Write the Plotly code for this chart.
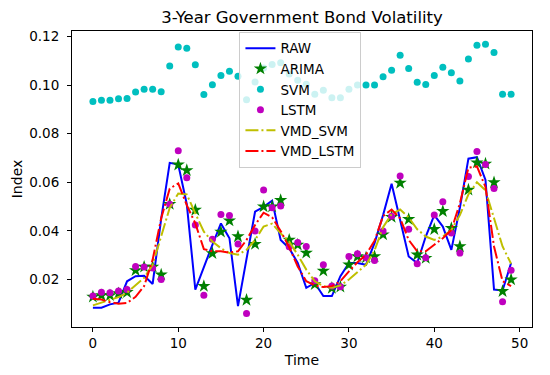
import plotly.graph_objects as go

time = list(range(50))

raw = [0.0084, 0.0084, 0.0098, 0.0105, 0.0193, 0.0214, 0.0216, 0.0182, 0.0450, 0.0680,
       0.0673, 0.0510, 0.0159, 0.0254, 0.0343, 0.0431, 0.0370, 0.0091, 0.0290, 0.0479,
       0.0499, 0.0524, 0.0363, 0.0329, 0.0268, 0.0166, 0.0186, 0.0132, 0.0132, 0.0214,
       0.0268, 0.0268, 0.0261, 0.0350, 0.0465, 0.0594, 0.0445, 0.0295, 0.0268, 0.0377,
       0.0465, 0.0418, 0.0322, 0.0495, 0.0697, 0.0703, 0.0610, 0.0159, 0.0155, 0.0268]

arima = [0.0129, 0.0135, 0.0135, 0.0143, 0.0148, 0.0238, 0.0252, 0.0252, 0.0220, 0.0510,
         0.0672, 0.0649, 0.0486, 0.0173, 0.0308, 0.0396, 0.0442, 0.0377, 0.0116, 0.0346,
         0.0500, 0.0500, 0.0526, 0.0363, 0.0343, 0.0310, 0.0180, 0.0236, 0.0165, 0.0170,
         0.0261, 0.0295, 0.0290, 0.0295, 0.0385, 0.0457, 0.0597, 0.0448, 0.0302, 0.0288,
         0.0407, 0.0481, 0.0411, 0.0336, 0.0569, 0.0681, 0.0676, 0.0599, 0.0152, 0.0200]

svm = [0.0932, 0.0937, 0.0937, 0.0943, 0.0944, 0.0971, 0.0982, 0.0982, 0.0972, 0.1078,
       0.1156, 0.1151, 0.1083, 0.0961, 0.1001, 0.1039, 0.1056, 0.1036, 0.0939, 0.1012,
       0.1070, 0.1084, 0.1091, 0.1045, 0.1020, 0.1003, 0.0962, 0.0978, 0.0948, 0.0948,
       0.0982, 0.1000, 0.1000, 0.1000, 0.1034, 0.1061, 0.1122, 0.1068, 0.1011, 0.1002,
       0.1039, 0.1073, 0.1050, 0.1016, 0.1107, 0.1163, 0.1168, 0.1134, 0.0962, 0.0962]

lstm = [0.0132, 0.0148, 0.0146, 0.0153, 0.0159, 0.0254, 0.0252, 0.0248, 0.0200, 0.0510,
        0.0730, 0.0619, 0.0424, 0.0136, 0.0366, 0.0468, 0.0463, 0.0346, 0.0060, 0.0400,
        0.0568, 0.0495, 0.0502, 0.0335, 0.0352, 0.0336, 0.0195, 0.0261, 0.0174, 0.0170,
        0.0295, 0.0306, 0.0290, 0.0278, 0.0400, 0.0460, 0.0626, 0.0407, 0.0265, 0.0290,
        0.0465, 0.0520, 0.0391, 0.0309, 0.0624, 0.0727, 0.0673, 0.0574, 0.0109, 0.0238]

vmd_svm = [0.0094, 0.0105, 0.0116, 0.0128, 0.0146, 0.0176, 0.0207, 0.0261, 0.0377, 0.0495,
           0.0554, 0.0550, 0.0472, 0.0397, 0.0356, 0.0329, 0.0309, 0.0302, 0.0322, 0.0363,
           0.0418, 0.0430, 0.0390, 0.0356, 0.0302, 0.0241, 0.0193, 0.0173, 0.0166, 0.0176,
           0.0200, 0.0230, 0.0261, 0.0320, 0.0415, 0.0469, 0.0488, 0.0456, 0.0407, 0.0377,
           0.0363, 0.0377, 0.0404, 0.0465, 0.0550, 0.0600, 0.0567, 0.0452, 0.0336, 0.0265]

vmd_lstm = [0.0121, 0.0118, 0.0107, 0.0101, 0.0104, 0.0129, 0.0173, 0.0282, 0.0452, 0.0574,
            0.0595, 0.0506, 0.0431, 0.0325, 0.0316, 0.0316, 0.0311, 0.0316, 0.0363, 0.0424,
            0.0475, 0.0456, 0.0400, 0.0333, 0.0254, 0.0193, 0.0176, 0.0169, 0.0173, 0.0193,
            0.0234, 0.0271, 0.0302, 0.0360, 0.0461, 0.0488, 0.0452, 0.0363, 0.0316, 0.0316,
            0.0343, 0.0370, 0.0404, 0.0513, 0.0660, 0.0665, 0.0581, 0.0336, 0.0193, 0.0173]

x_ticks = [0, 10, 20, 30, 40, 50]
y_ticks = [0.02, 0.04, 0.06, 0.08, 0.10, 0.12]

FONT = "DejaVu Sans"
dashdot = "13px,3px,2px,3px"

fig = go.Figure()
fig.add_trace(go.Scatter(x=time, y=raw, name="RAW", mode="lines",
                         line=dict(color="#0000ff", width=2)))
fig.add_trace(go.Scatter(x=time, y=arima, name="ARIMA", mode="markers",
                         marker=dict(symbol="star", color="#008000", size=10,
                                     line=dict(width=0))))
fig.add_trace(go.Scatter(x=time, y=svm, name="SVM", mode="markers",
                         marker=dict(symbol="circle", color="#00bfbf", size=7,
                                     line=dict(width=0))))
fig.add_trace(go.Scatter(x=time, y=lstm, name="LSTM", mode="markers",
                         marker=dict(symbol="circle", color="#bf00bf", size=7,
                                     line=dict(width=0))))
fig.add_trace(go.Scatter(x=time, y=vmd_svm, name="VMD_SVM", mode="lines",
                         line=dict(color="#bfbf00", width=2, dash=dashdot)))
fig.add_trace(go.Scatter(x=time, y=vmd_lstm, name="VMD_LSTM", mode="lines",
                         line=dict(color="#ff0000", width=2, dash=dashdot)))

axis_common = dict(showline=True, mirror=True, linecolor="black", linewidth=1,
                   ticks="outside", ticklen=4, tickcolor="black", tickwidth=1,
                   showgrid=False, zeroline=False, automargin=False,
                   tickfont=dict(family=FONT, size=13.5, color="black"))

# the page body adds an 8px offset, so margins are shifted by 8px
fig.update_layout(
    width=550, height=375,
    margin=dict(l=64, r=26, t=23, b=56),
    paper_bgcolor="white", plot_bgcolor="white",
    font=dict(family=FONT, color="black"),
    title=dict(text="3-Year Government Bond Volatility", xref="paper", x=0.5,
               xanchor="center", yref="container", y=0.976, yanchor="middle",
               font=dict(family=FONT, size=16.5, color="black")),
    xaxis=dict(range=[-2.45, 51.45], tickvals=x_ticks, ticktext=[str(v) for v in x_ticks],
               title=dict(text="Time", font=dict(family=FONT, size=14), standoff=4),
               **axis_common),
    yaxis=dict(range=[0.0005, 0.1222], tickvals=y_ticks, ticktext=[f"{v:.2f}" for v in y_ticks],
               ticklabelstandoff=5,
               title=dict(text="Index", font=dict(family=FONT, size=14), standoff=3),
               **axis_common),
    legend=dict(x=0.364, y=0.997, xanchor="left", yanchor="top",
                bgcolor="rgba(255,255,255,0.8)", bordercolor="#cccccc", borderwidth=1,
                font=dict(family=FONT, size=13.5, color="black")),
    showlegend=True,
)

fig.write_html("out.html")
